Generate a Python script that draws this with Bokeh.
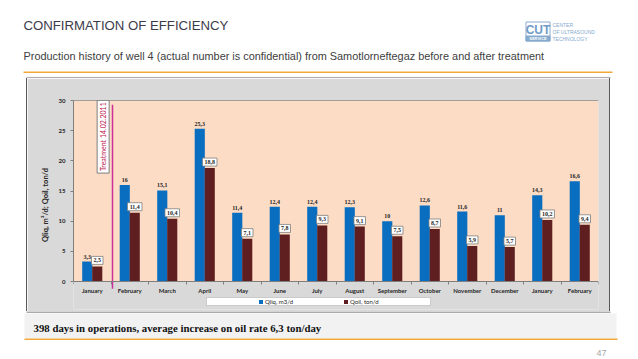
import math
from bokeh.plotting import figure
from bokeh.layouts import column, row
from bokeh.models import (ColumnDataSource, LabelSet, Label, Span, Spacer,
                          FixedTicker, Legend, LegendItem, BoxAnnotation)
from bokeh.core.properties import value
from bokeh.transform import dodge
from bokeh.embed import file_html
from bokeh.resources import INLINE

# ---------------- data ----------------
months = ["January", "February", "March", "April", "May", "June", "July",
          "August", "September", "October", "November", "December",
          "January", "February"]
q_liq = [3.3, 16, 15.1, 25.3, 11.4, 12.4, 12.4, 12.3, 10, 12.6, 11.6, 11, 14.3, 16.6]
q_oil = [2.5, 11.4, 10.4, 18.8, 7.1, 7.8, 9.3, 9.1, 7.5, 8.7, 5.9, 5.7, 10.2, 9.4]
y_ticks = [0, 5, 10, 15, 20, 25, 30]
treatment_x = 0.54          # between January and February
treatment_text = "Treatment 14.02.2011"
series_names = ["Qliq, m3/d", "Qoil, ton/d"]

title_text = "CONFIRMATION OF EFFICIENCY"
subtitle_text = ("Production history of well 4 (actual number is confidential) "
                 "from Samotlorneftegaz before and after treatment")
footer_text = "398 days in operations, average increase on oil rate 6,3 ton/day"
page_number = "47"
logo_lines = ["CENTER", "OF ULTRASOUND", "TECHNOLOGY"]

# ---------------- styling ----------------
BLUE = "#0A6EC0"
MAROON = "#5F1F20"
PEACH = "#FCDCC4"
GRAY = "#D9D9D9"
DARK = "#595959"
ORANGE = "#F0A838"
LOGO = "#86AACD"
CF = "Lato"
SANS = "Liberation Sans"
W = 638


def deco_fig(h):
    f = figure(width=W, height=h, x_range=(0, W), y_range=(h, 0),
               min_border=0, x_axis_location=None, y_axis_location=None,
               output_backend="svg", toolbar_location=None,
               outline_line_color=None, background_fill_color="white",
               border_fill_color="white")
    f.grid.visible = False
    return f


def txt(f, xx, yy, t, size, color, font=SANS, style="normal", align="left"):
    f.text(x=[xx], y=[yy], text=[t], text_font=value(font), text_font_size=size,
           text_color=color, text_font_style=style, text_align=align,
           text_baseline="middle")


# ---------------- header ----------------
HEAD_H = 78
head = deco_fig(HEAD_H)
txt(head, 23, 25, title_text, "13.2px", "#3B3B4B")
txt(head, 23, 55, subtitle_text, "10.9px", "#404040")
head.quad(left=[23], right=[612], top=[71], bottom=[72.5], fill_color=ORANGE,
          line_color=None)
# logo
head.quad(left=[525.5], right=[549.5], top=[21.5], bottom=[40.5], fill_color="white",
          line_color=LOGO, line_width=1)
head.quad(left=[525.5], right=[549.5], top=[35.5], bottom=[40.5], fill_color=LOGO,
          line_color=LOGO, line_width=1)
txt(head, 537.5, 29, "CUT", "12px", "#6F9BC6", style="bold", align="center")
txt(head, 537.5, 38.2, "SERVICE", "4px", "white", style="bold", align="center")
for i, t in enumerate(logo_lines):
    txt(head, 552, 24 + 7 * i, t, "5px", LOGO)
# top border of chart box
head.quad(left=[26], right=[610], top=[77], bottom=[78], fill_color=DARK,
          line_color=None)

# ---------------- chart ----------------
CH_H = 233
PX_PER_UNIT = 181 / 30          # frame pixels per y unit (0..30 spans 181 px)
Y_BOTTOM = -28 / PX_PER_UNIT     # frame continues 28 px below zero (legend area)
X_PX = 37.5                      # pixels per category

x = list(range(len(months)))
liq_lbl = [("%g" % v).replace(".", ",") for v in q_liq]
oil_lbl = [("%g" % v).replace(".", ",") for v in q_oil]
src = ColumnDataSource(dict(x=x, liq=q_liq, oil=q_oil, liq_lbl=liq_lbl,
                            oil_lbl=oil_lbl,
                            oil_box_w=[2.5 + 3 * len(s) for s in oil_lbl]))

p = figure(width=582, height=CH_H, x_range=(-0.5, len(months) - 0.5),
           y_range=(Y_BOTTOM, y_ticks[-1]),
           min_border_left=46, min_border_right=11, min_border_top=22,
           min_border_bottom=2, output_backend="svg", toolbar_location=None,
           background_fill_color=GRAY, border_fill_color=GRAY,
           outline_line_color=None)
p.grid.visible = False

# plot area (peach) and legend box
p.add_layout(BoxAnnotation(left=-0.5, right=len(months) - 0.5, bottom=0,
                           top=y_ticks[-1], fill_color=PEACH, fill_alpha=1,
                           line_color=None, level="underlay"))
p.add_layout(BoxAnnotation(left=133 / X_PX - 0.5, right=357 / X_PX - 0.5,
                           bottom=-24 / PX_PER_UNIT, top=-16 / PX_PER_UNIT,
                           fill_color="white", fill_alpha=1, line_color="#7F7F7F",
                           line_width=1, level="underlay"))

r_liq = p.vbar(x=dodge("x", -0.133, range=p.x_range), top="liq", width=0.27,
               fill_color=BLUE, line_color=None, source=src)
r_oil = p.vbar(x=dodge("x", 0.133, range=p.x_range), top="oil", width=0.27,
               fill_color=MAROON, line_color=None, source=src)

p.add_layout(LabelSet(x=dodge("x", -0.133, range=p.x_range), y="liq", text="liq_lbl",
                      source=src, y_offset=3, text_align="center",
                      text_baseline="bottom", text_font=CF, text_font_size="6px",
                      text_font_style="bold", text_color="#262626"))
# boxed oil labels
oil_lbl_y = dodge("oil", 6 / PX_PER_UNIT)
p.rect(x=dodge("x", 0.133, range=p.x_range), y=oil_lbl_y, width="oil_box_w",
       width_units="screen", height=8, height_units="screen", fill_color="white",
       line_color="#7F7F7F", line_width=0.8, source=src)
p.add_layout(LabelSet(x=dodge("x", 0.133, range=p.x_range), y=oil_lbl_y,
                      text="oil_lbl", source=src, text_align="center",
                      text_baseline="middle", text_font=CF, text_font_size="6px",
                      text_font_style="bold", text_color="#262626"))

p.segment(x0=treatment_x, y0=-1.2, x1=treatment_x, y1=29.3, line_color="#CC2E9A",
          line_width=1.5)
p.add_layout(Label(x=treatment_x - 0.25, y=24, text=treatment_text, angle=math.pi / 2,
                   text_align="center", text_baseline="middle", text_font=CF,
                   text_font_size="7px", text_color="#C0104A", padding=2,
                   background_fill_color="white", border_line_color="#7F7F7F"))

p.add_layout(Span(location=y_ticks[-1], dimension="width", line_color=DARK,
                  line_width=1.2))

p.xaxis.fixed_location = 0
p.xaxis.ticker = FixedTicker(ticks=x, minor_ticks=[i - 0.5 for i in x] + [x[-1] + 0.5])
p.xaxis.major_label_overrides = {i: m for i, m in zip(x, months)}
p.xaxis.major_tick_out = 0
p.xaxis.major_tick_in = 0
p.xaxis.minor_tick_out = 3
p.xaxis.minor_tick_in = 0
p.xaxis.major_label_standoff = 2
p.yaxis.ticker = FixedTicker(ticks=y_ticks)
p.yaxis.bounds = (y_ticks[0], y_ticks[-1])
p.yaxis.major_tick_out = 3
p.yaxis.major_tick_in = 0
p.yaxis.major_label_standoff = 5
p.yaxis.axis_label = "Qliq, m³/d; Qoil, ton/d"
p.yaxis.axis_label_standoff = 6
p.yaxis.axis_label_text_font = CF
p.yaxis.axis_label_text_font_size = "7.5px"
p.yaxis.axis_label_text_font_style = "bold"
p.yaxis.axis_label_text_color = "#262626"
for ax in (p.xaxis, p.yaxis):
    ax.axis_line_color = "#7F7F7F"
    ax.major_tick_line_color = "#7F7F7F"
    ax.minor_tick_line_color = "#7F7F7F"
    ax.major_label_text_font = CF
    ax.major_label_text_font_size = "6px"
    ax.major_label_text_font_style = "bold"
    ax.major_label_text_color = "#262626"
p.yaxis.minor_tick_line_color = None

legend = Legend(items=[LegendItem(label=series_names[0], renderers=[r_liq]),
                       LegendItem(label=series_names[1], renderers=[r_oil])],
                location=(185, 4), orientation="horizontal", glyph_width=5,
                glyph_height=5, label_text_font=CF, label_text_font_size="6px",
                label_standoff=2, label_width=78, label_height=6, spacing=0,
                padding=1, margin=0, background_fill_alpha=0,
                border_line_color=None, label_text_color="#262626")
p.add_layout(legend)

side_l = Spacer(width=26, height=CH_H)
bar_l = Spacer(width=1, height=CH_H, styles={"background-color": DARK})
bar_r = Spacer(width=1, height=CH_H, styles={"background-color": DARK})
side_r = Spacer(width=W - 26 - 1 - 582 - 1, height=CH_H)

# ---------------- footer ----------------
FOOT_H = 359 - HEAD_H - CH_H
foot = deco_fig(FOOT_H)
foot.quad(left=[26], right=[610], top=[0], bottom=[1], fill_color=DARK, line_color=None)
foot.quad(left=[24], right=[616], top=[2], bottom=[26.5], fill_color="#F2F2F2",
          line_color=None)
txt(foot, 33, 16, footer_text, "10.8px", "#111111", font="Liberation Serif",
    style="bold")
foot.quad(left=[24], right=[617], top=[27], bottom=[28.5], fill_color=ORANGE,
          line_color=None)
txt(foot, 606, 41, page_number, "9px", "#A6A6A6", align="right")

layout = column(head, row(side_l, bar_l, p, bar_r, side_r), foot, spacing=0)

open("out.html", "w").write(file_html(layout, INLINE))
